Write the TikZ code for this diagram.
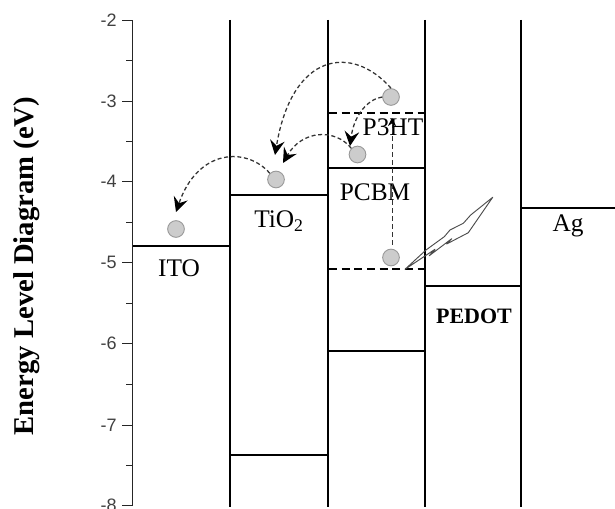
\documentclass[tikz,border=0pt]{standalone}
\usepackage{fontspec}
\setmainfont{Liberation Serif}
\newfontfamily\axisfont{Liberation Sans}
\usetikzlibrary{arrows.meta}
\tikzset{
 x=0.75pt,y=-0.75pt,
 wall/.style={line width=1.4pt,black},
 level/.style={line width=1.1pt,black},
 dlevel/.style={line width=1.1pt,black,dash pattern=on 6pt off 3.5pt},
 elec/.style={circle,draw=black!40,fill=black!20,line width=0.7pt,minimum size=12.5pt,inner sep=0pt},
 hop/.style={line width=0.95pt,black!80,dash pattern=on 3pt off 2pt,-{Stealth[length=11pt,width=11pt,inset=4pt,black]}},
 rise/.style={line width=0.6pt,black!80,dash pattern=on 4pt off 2pt,-{Stealth[length=6pt,width=6pt,inset=2pt,black]}},
 lab/.style={font=\fontsize{19}{19}\selectfont,inner sep=0pt},
 ticklab/.style={font=\axisfont\fontsize{13.5}{13.5}\selectfont,text=black!75,anchor=east,inner sep=0pt},
 flash/.style={line width=0.7pt,black!70,line join=round},
}
\begin{document}
\begin{tikzpicture}
\useasboundingbox (0,0) rectangle (615,509);
% axis
\draw[line width=0.7pt,black!85] (122,20)--(132,20)--(132,505)--(122,505);
\foreach \y/\t in {20/-2,101/-3,181/-4,262/-5,343/-6,425/-7,505/-8}{
 \draw[line width=0.7pt,black!85] (122,\y)--(132,\y);
 \node[ticklab] at (117,\y) {\t};
}
\foreach \y in {60,141,222,303,384,465}{\draw[line width=0.7pt,black!85] (126,\y)--(132,\y);}
\node[rotate=90,font=\bfseries\fontsize{21.5}{21.5}\selectfont,inner sep=0pt] (ylab) at (27,266) {Energy Level Diagram (eV)};
% walls
\foreach \x in {230,328,425,521}{\draw[wall] (\x,20)--(\x,507);}
% levels
\draw[level] (133,246)--(230,246);
\draw[level] (231,195)--(328,195);
\draw[level] (231,455)--(328,455);
\draw[level] (329,168)--(425,168);
\draw[level] (329,351)--(425,351);
\draw[dlevel] (329,113)--(425,113);
\draw[dlevel] (329,269)--(425,269);
\draw[level] (426,286)--(521,286);
\draw[level] (522,208)--(615,208);
% labels
\node[lab] (ito) at (179,268) {ITO};
\node[lab] (tio) at (279,221) {TiO\textsubscript{2}};
\node[lab] (pcbm) at (375,192) {PCBM};
\node[lab] (p3ht) at (393,127) {P3HT};
\node[lab,font=\bfseries\fontsize{16.5}{16.5}\selectfont] (pedot) at (474,316) {PEDOT};
\node[lab] (ag) at (568,226) {Ag};
% electrons
\node[elec] (e1) at (176,229) {};
\node[elec] (e2) at (276,179.5) {};
\node[elec] (e3) at (357.5,154.5) {};
\node[elec] (e4) at (391,97) {};
\node[elec] (e5) at (391,257.5) {};
\coordinate (t1) at (176,212);
\coordinate (t2) at (275,155);
\coordinate (t3) at (283,163);
\coordinate (t4) at (350,146);
\coordinate (t5) at (392,118);
% hops
\draw[hop] (e2.north west) .. controls (247,147) and (198,148) .. (t1);
\draw[hop] (e3.north west) .. controls (335,128) and (302,130) .. (t3);
\draw[hop] (e4.north) .. controls (352,44) and (292,52) .. (t2);
\draw[hop] (e4.west) .. controls (368,99) and (354,115) .. (t4);
\draw[rise] (392,245) -- (t5);
% flash
\draw[flash] (405,269.3)--(435,249.3)--(429.3,255.7)--(451.7,238.7)--(446.7,244)--(468.3,232.7)--(492.7,197.3)--(470.7,215)--(463.3,223.3)--(450,230)--(444.3,236.7)--(426,250)--cycle;
\end{tikzpicture}
\end{document}
